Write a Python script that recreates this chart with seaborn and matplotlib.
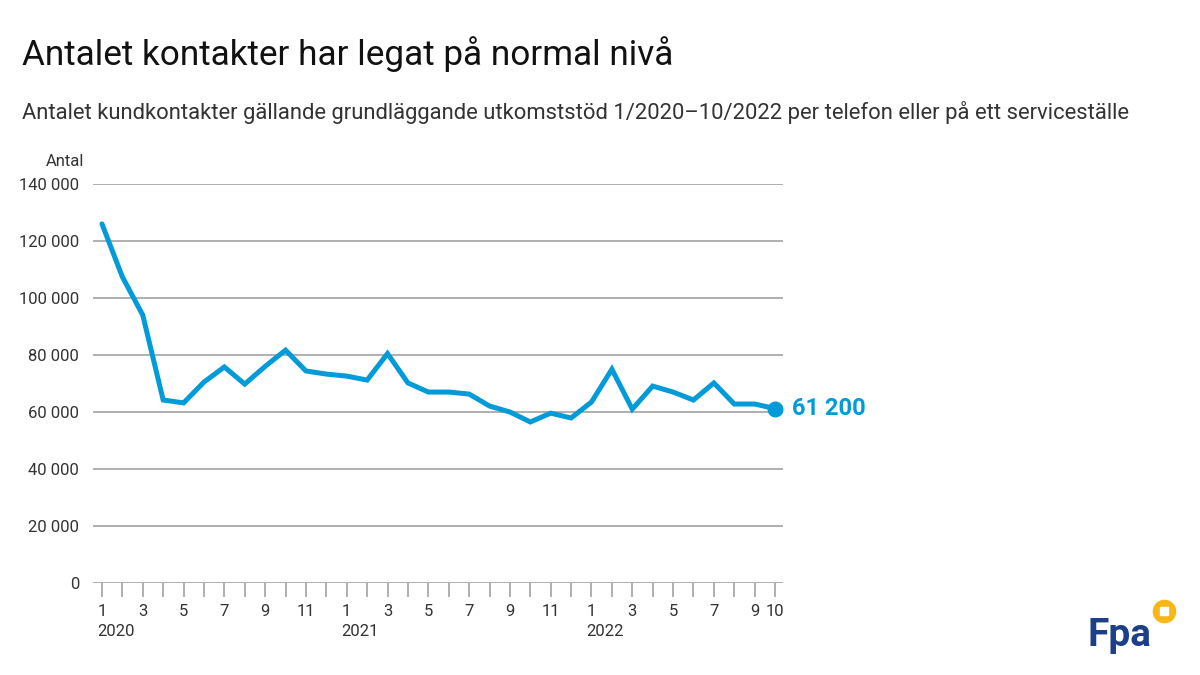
import numpy as np
import pandas as pd
import matplotlib.pyplot as plt
import seaborn as sns
from matplotlib.lines import Line2D

# monthly contacts 1/2020 - 10/2022
years = [2020] * 12 + [2021] * 12 + [2022] * 10
months = list(range(1, 13)) + list(range(1, 13)) + list(range(1, 11))
contacts = [126000, 107400, 94000, 64200, 63200, 70500, 75800, 69800, 76000, 81700,
            74400, 73300, 72600, 71200, 80500, 70200, 67000, 67000, 66300, 62100,
            60000, 56500, 59600, 57900, 63500, 75000, 61000, 69100, 67000, 64200,
            70200, 62800, 62800, 61200]
y_ticks = [0, 20000, 40000, 60000, 80000, 100000, 120000, 140000]
last_label = '61 200'

title = 'Antalet kontakter har legat på normal nivå'
subtitle = ('Antalet kundkontakter gällande grundläggande utkomststöd '
            '1/2020–10/2022 per telefon eller på ett serviceställe')

df = pd.DataFrame({'year': years, 'month': months, 'contacts': contacts})
df['idx'] = np.arange(1, len(df) + 1)

sns.set_style('white')
plt.rcParams['font.family'] = ['Roboto', 'DejaVu Sans']

blue = '#009bd8'
grid_col = '#9a9a9a'
text_col = '#333333'

fig = plt.figure(figsize=(12, 6.75), dpi=100)
ax = fig.add_axes([93 / 1200, 1 - 583 / 675, (783 - 93) / 1200, (583 - 184) / 675])

for v in y_ticks:
    ax.axhline(v, color=grid_col, lw=1.1, zorder=1)

sns.lineplot(data=df, x='idx', y='contacts', color=blue, lw=3.6, ax=ax, zorder=3,
             solid_joinstyle='miter')
ax.scatter(df['idx'].iloc[-1], df['contacts'].iloc[-1], s=110, color=blue, zorder=4)
ax.annotate(last_label, (df['idx'].iloc[-1], df['contacts'].iloc[-1]),
            xytext=(12, 0), textcoords='offset points', va='center', ha='left',
            color=blue, fontsize=17, fontweight='bold')

ax.set_xlim(0.56, 34.39)
ax.set_ylim(0, 140000)
sns.despine(ax=ax, left=True, bottom=True, top=True, right=True)

ax.set_yticks(y_ticks)
ax.set_yticklabels(['{:,}'.format(v).replace(',', ' ') for v in y_ticks])
ax.tick_params(axis='y', length=0, pad=10, labelsize=12, labelcolor=text_col)

ax.set_xticks(df['idx'])
labels = []
for i, m in enumerate(months):
    labels.append(str(m) if (m % 2 == 1 or i == len(months) - 1) else '')
ax.set_xticklabels(labels, fontsize=12, color=text_col)
ax.tick_params(axis='x', length=10, width=1.1, color=grid_col, direction='out',
               pad=5, bottom=True)
ax.set_xlabel('')
ax.set_ylabel('')

# year labels under first month of each year
for i, (y, m) in enumerate(zip(years, months)):
    if m == 1:
        ax.text(i + 1 - 0.25, -0.122, str(y), transform=ax.get_xaxis_transform(),
                ha='left', va='center', fontsize=12, color=text_col)

fig.text(84 / 1200, 1 - 161 / 675, 'Antal', ha='right', va='center',
         fontsize=12, color=text_col)
fig.text(22 / 1200, 1 - 54 / 675, title, ha='left', va='center',
         fontsize=25.3, color='#111111')
fig.text(22 / 1200, 1 - 112 / 675, subtitle, ha='left', va='center',
         fontsize=15.8, color=text_col)

# logo
fig.text(1088 / 1200, 1 - 636 / 675, 'Fpa', ha='left', va='center',
         fontsize=28, fontweight='bold', color='#1d3f8a')
fig.add_artist(Line2D([1164 / 1200], [1 - 611 / 675], marker='o', markersize=16,
                      color='#f7b718', transform=fig.transFigure))
fig.add_artist(Line2D([1164 / 1200], [1 - 611 / 675], marker='s', markersize=6,
                      color='white', transform=fig.transFigure))

fig.savefig('out.png', dpi=100)
